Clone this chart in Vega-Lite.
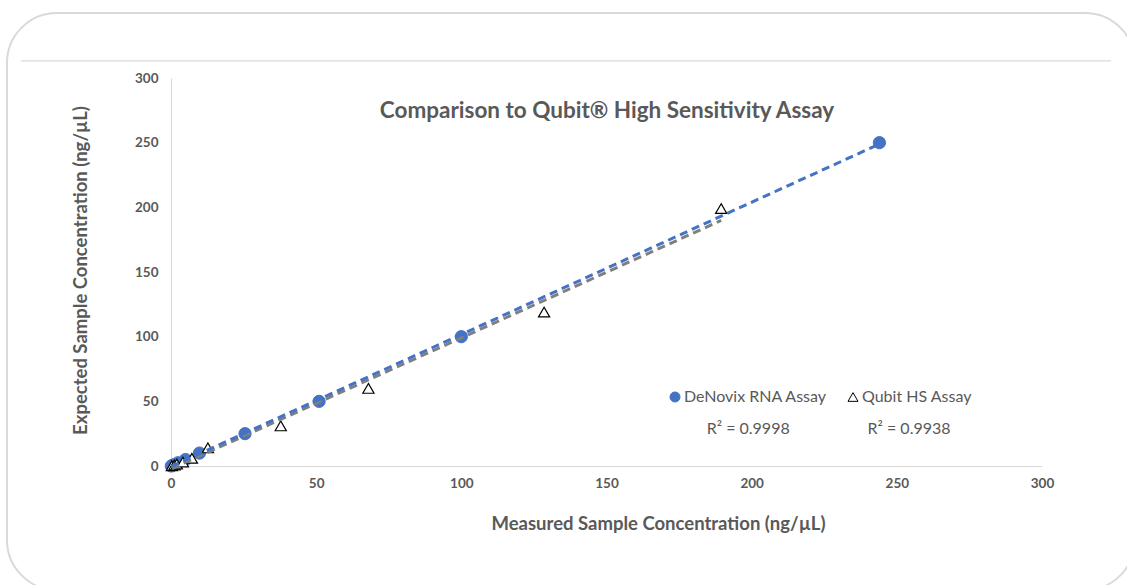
{
  "$schema": "https://vega.github.io/schema/vega-lite/v6.json",
  "width": 1128,
  "height": 577,
  "autosize": {"type": "none"},
  "padding": {"left": 7, "top": 13, "right": 0, "bottom": 0},
  "background": "white",
  "config": {
    "view": {"stroke": "#d9d9d9", "strokeWidth": 2, "cornerRadius": 50},
    "font": "Lato"
  },
  "title": {
    "text": "Comparison to Qubit® High Sensitivity Assay",
    "font": "Lato",
    "fontSize": 22.5,
    "fontWeight": "bold",
    "color": "#595959",
    "anchor": "middle",
    "frame": "group",
    "dx": 36,
    "dy": 113
  },
  "datasets": {
    "points": [
      {"series": "DeNovix RNA Assay", "x": 0.1, "y": 0},
      {"series": "DeNovix RNA Assay", "x": 0.5, "y": 0.5},
      {"series": "DeNovix RNA Assay", "x": 1.1, "y": 1},
      {"series": "DeNovix RNA Assay", "x": 2.4, "y": 2.5},
      {"series": "DeNovix RNA Assay", "x": 5, "y": 5},
      {"series": "DeNovix RNA Assay", "x": 9.8, "y": 10},
      {"series": "DeNovix RNA Assay", "x": 25.5, "y": 25},
      {"series": "DeNovix RNA Assay", "x": 51, "y": 50},
      {"series": "DeNovix RNA Assay", "x": 100, "y": 100},
      {"series": "DeNovix RNA Assay", "x": 244, "y": 250},
      {"series": "Qubit HS Assay", "x": 0.3, "y": 0.2},
      {"series": "Qubit HS Assay", "x": 1.2, "y": 0.8},
      {"series": "Qubit HS Assay", "x": 2.0, "y": 1.5},
      {"series": "Qubit HS Assay", "x": 4.1, "y": 3},
      {"series": "Qubit HS Assay", "x": 7.2, "y": 6},
      {"series": "Qubit HS Assay", "x": 12.7, "y": 14},
      {"series": "Qubit HS Assay", "x": 37.8, "y": 31},
      {"series": "Qubit HS Assay", "x": 68, "y": 60},
      {"series": "Qubit HS Assay", "x": 128.5, "y": 119},
      {"series": "Qubit HS Assay", "x": 189.5, "y": 199}
    ]
  },
  "layer": [
    {
      "data": {"values": [{}]},
      "mark": {"type": "rule", "color": "#d0d0d0", "strokeWidth": 1, "clip": false},
      "encoding": {
        "x": {"datum": -51.7, "type": "quantitative", "scale": {"domain": [0, 300], "range": [164, 1035], "nice": false, "zero": false}},
        "x2": {"datum": 323.8},
        "y": {"datum": 313.2, "type": "quantitative", "scale": {"domain": [0, 300], "range": [453, 65], "nice": false, "zero": false}}
      }
    },
    {
      "data": {"name": "points"},
      "transform": [{"filter": "datum.series === 'DeNovix RNA Assay'"}],
      "mark": {"type": "point", "filled": true, "size": 150, "strokeWidth": 1, "opacity": 1},
      "encoding": {
        "x": {
          "field": "x", "type": "quantitative",
          "scale": {"domain": [0, 300], "range": [164, 1035], "nice": false, "zero": false},
          "axis": {
            "title": "Measured Sample Concentration (ng/µL)",
            "values": [0, 50, 100, 150, 200, 250, 300],
            "ticks": false, "grid": false,
            "domainColor": "#d9d9d9", "domainWidth": 1,
            "labelFont": "Lato", "labelFontSize": 13.5, "labelFontWeight": "bold", "labelColor": "#595959",
            "labelPadding": 10, "labelFlush": false,
            "offset": -124,
            "titleFont": "Lato", "titleFontSize": 18.5, "titleFontWeight": "bold", "titleColor": "#595959",
            "titleX": 651, "titleY": 57, "titleBaseline": "middle"
          }
        },
        "y": {
          "field": "y", "type": "quantitative",
          "scale": {"domain": [0, 300], "range": [453, 65], "nice": false, "zero": false},
          "axis": {
            "title": "Expected Sample Concentration (ng/µL)",
            "values": [0, 50, 100, 150, 200, 250, 300],
            "ticks": false, "grid": false,
            "domainColor": "#d9d9d9", "domainWidth": 1,
            "labelFont": "Lato", "labelFontSize": 13.5, "labelFontWeight": "bold", "labelColor": "#595959",
            "labelPadding": 13, "labelFlush": false,
            "offset": -164,
            "titleFont": "Lato", "titleFontSize": 18.5, "titleFontWeight": "bold", "titleColor": "#595959",
            "titleX": -91, "titleY": 257, "titleBaseline": "middle"
          }
        },
        "shape": {
          "field": "series", "type": "nominal",
          "scale": {"domain": ["DeNovix RNA Assay", "Qubit HS Assay"], "range": ["circle", "triangle-up"]},
          "legend": {"title": null, "orient": "none", "legendX": 660, "legendY": 376, "direction": "horizontal", "labelFont": "Lato", "labelFontSize": 16, "labelColor": "#595959", "symbolSize": 100, "symbolStrokeWidth": 1, "columnPadding": 17, "labelOffset": 1}
        },
        "fill": {
          "field": "series", "type": "nominal",
          "scale": {"domain": ["DeNovix RNA Assay", "Qubit HS Assay"], "range": ["#4472C4", "#ffffff"]},
          "legend": {"title": null, "orient": "none", "legendX": 660, "legendY": 376, "direction": "horizontal", "labelFont": "Lato", "labelFontSize": 16, "labelColor": "#595959", "symbolSize": 100, "symbolStrokeWidth": 1, "columnPadding": 17, "labelOffset": 1}
        },
        "stroke": {
          "field": "series", "type": "nominal",
          "scale": {"domain": ["DeNovix RNA Assay", "Qubit HS Assay"], "range": ["#4472C4", "#000000"]},
          "legend": {"title": null, "orient": "none", "legendX": 660, "legendY": 376, "direction": "horizontal", "labelFont": "Lato", "labelFontSize": 16, "labelColor": "#595959", "symbolSize": 100, "symbolStrokeWidth": 1, "columnPadding": 17, "labelOffset": 1}
        }
      }
    },
    {
      "data": {"name": "points"},
      "transform": [{"filter": "datum.series === 'Qubit HS Assay'"}],
      "mark": {"type": "point", "filled": true, "size": 125, "strokeWidth": 1.2, "opacity": 1},
      "encoding": {
        "x": {"field": "x", "type": "quantitative", "scale": {"domain": [0, 300], "range": [164, 1035], "nice": false, "zero": false}},
        "y": {"field": "y", "type": "quantitative", "scale": {"domain": [0, 300], "range": [453, 65], "nice": false, "zero": false}},
        "shape": {"field": "series", "type": "nominal"},
        "fill": {"field": "series", "type": "nominal"},
        "stroke": {"field": "series", "type": "nominal"}
      }
    },
    {
      "data": {"name": "points"},
      "transform": [{"filter": "datum.series === 'Qubit HS Assay'"}, {"regression": "y", "on": "x"}],
      "mark": {"type": "line", "color": "#7f7f7f", "strokeWidth": 3, "strokeDash": [8, 5]},
      "encoding": {
        "x": {"field": "x", "type": "quantitative", "scale": {"domain": [0, 300], "range": [164, 1035], "nice": false, "zero": false}},
        "y": {"field": "y", "type": "quantitative", "scale": {"domain": [0, 300], "range": [453, 65], "nice": false, "zero": false}}
      }
    },
    {
      "data": {"name": "points"},
      "transform": [{"filter": "datum.series === 'DeNovix RNA Assay'"}, {"regression": "y", "on": "x"}],
      "mark": {"type": "line", "color": "#4472C4", "strokeWidth": 3, "strokeDash": [8, 5]},
      "encoding": {
        "x": {"field": "x", "type": "quantitative", "scale": {"domain": [0, 300], "range": [164, 1035], "nice": false, "zero": false}},
        "y": {"field": "y", "type": "quantitative", "scale": {"domain": [0, 300], "range": [453, 65], "nice": false, "zero": false}}
      }
    },
    {
      "data": {"values": [{}]},
      "mark": {"type": "text", "font": "Lato", "fontSize": 16, "color": "#595959", "align": "center", "baseline": "middle"},
      "encoding": {
        "x": {"datum": 198.8, "type": "quantitative"},
        "y": {"datum": 28.6, "type": "quantitative"},
        "text": {"value": "R² = 0.9998"}
      }
    },
    {
      "data": {"values": [{}]},
      "mark": {"type": "text", "font": "Lato", "fontSize": 16, "color": "#595959", "align": "center", "baseline": "middle"},
      "encoding": {
        "x": {"datum": 254.2, "type": "quantitative"},
        "y": {"datum": 28.6, "type": "quantitative"},
        "text": {"value": "R² = 0.9938"}
      }
    }
  ]
}
